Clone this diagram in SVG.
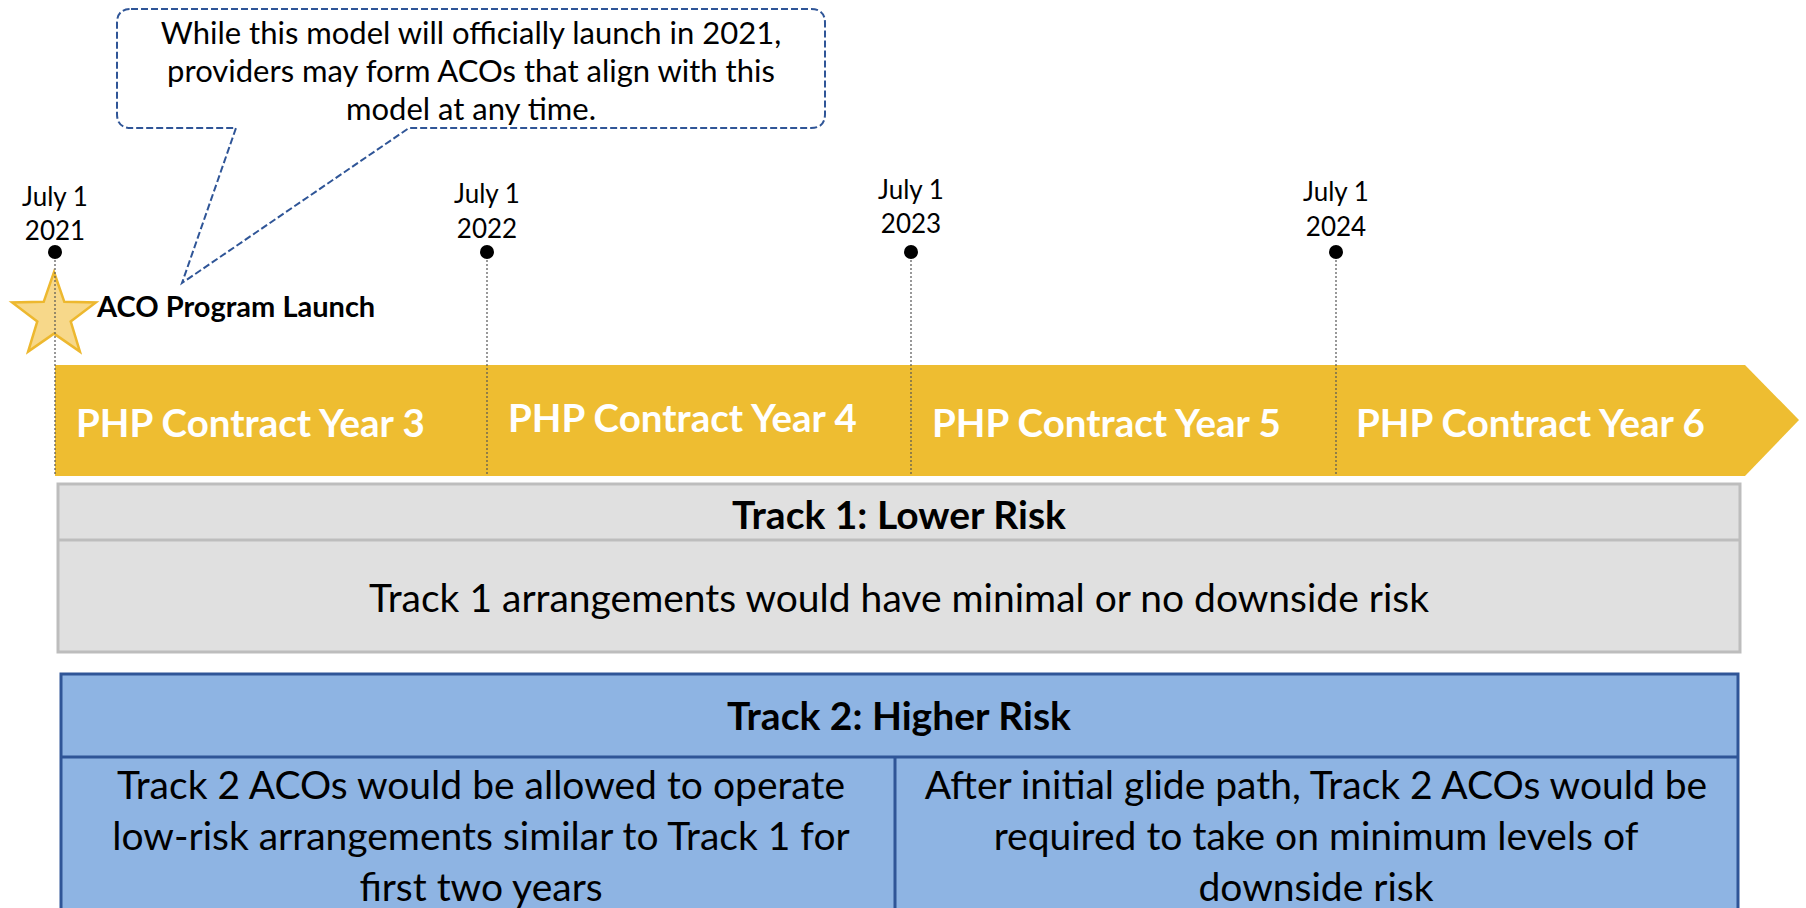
<svg xmlns="http://www.w3.org/2000/svg" width="1806" height="908" viewBox="0 0 1806 908">
<style>
text{font-family:Lato,"Liberation Sans",sans-serif;fill:#000;dominant-baseline:central;text-anchor:middle}
.date{font-size:26px}
.callout{font-size:31px}
.bar{font-size:38.5px;font-weight:bold;fill:#fff;text-anchor:start}
.hdr{font-size:39px;font-weight:bold}
.body{font-size:39px}
.vline{stroke:#555;stroke-width:1.2;stroke-dasharray:2 2;fill:none}
</style>
<rect width="1806" height="908" fill="#fff"/>

<g id="callout">
<path d="M131,9 H811 Q825,9 825,23 V114 Q825,128 811,128 H409 L182,283 L236,128 H131 Q117,128 117,114 V23 Q117,9 131,9 Z" fill="#fff" stroke="#2F5597" stroke-width="2" stroke-dasharray="7 3"/>
<text class="callout" x="471" y="32">While this model will officially launch in 2021,</text>
<text class="callout" x="471" y="70">providers may form ACOs that align with this</text>
<text class="callout" x="471" y="108">model at any time.</text>
</g>

<g id="timeline-bar">
<path d="M55,365 H1745 L1799,420 L1745,476 H55 Z" fill="#EEBD31"/>
<text class="bar" x="76" y="422">PHP Contract Year 3</text>
<text class="bar" x="508" y="417">PHP Contract Year 4</text>
<text class="bar" x="932" y="422">PHP Contract Year 5</text>
<text class="bar" x="1356" y="422">PHP Contract Year 6</text>
</g>

<g id="launch">
<polygon points="54,272 64.3,301.8 95.8,302.4 70.7,321.4 79.9,351.6 54,333.6 28.1,351.6 37.3,321.4 12.2,302.4 43.7,301.8" fill="#F7D88A" stroke="#EDB82F" stroke-width="2.5"/>
<text x="97" y="305" style="font-size:29px;font-weight:bold;text-anchor:start">ACO Program Launch</text>
</g>

<g id="connectors">
<line class="vline" x1="55" y1="252" x2="55" y2="476"/>
<line class="vline" x1="487" y1="252" x2="487" y2="476"/>
<line class="vline" x1="911" y1="252" x2="911" y2="476"/>
<line class="vline" x1="1336" y1="252" x2="1336" y2="476"/>
</g>

<g id="date-2021">
<text class="date" x="55" y="196">July 1</text>
<text class="date" x="55" y="230">2021</text>
<circle cx="55" cy="252" r="7" fill="#000"/>
</g>
<g id="date-2022">
<text class="date" x="487" y="193">July 1</text>
<text class="date" x="487" y="228">2022</text>
<circle cx="487" cy="252" r="7" fill="#000"/>
</g>
<g id="date-2023">
<text class="date" x="911" y="189">July 1</text>
<text class="date" x="911" y="223">2023</text>
<circle cx="911" cy="252" r="7" fill="#000"/>
</g>
<g id="date-2024">
<text class="date" x="1336" y="191">July 1</text>
<text class="date" x="1336" y="226">2024</text>
<circle cx="1336" cy="252" r="7" fill="#000"/>
</g>

<g id="track1">
<rect x="58" y="484" width="1682" height="168" fill="#E0E0E0" stroke="#BDBDBD" stroke-width="3"/>
<line x1="58" y1="540" x2="1740" y2="540" stroke="#BDBDBD" stroke-width="3"/>
<text class="hdr" x="899" y="514">Track 1: Lower Risk</text>
<text class="body" x="899" y="597">Track 1 arrangements would have minimal or no downside risk</text>
</g>

<g id="track2">
<rect x="61" y="674" width="1677" height="260" fill="#8EB4E3" stroke="#2F5597" stroke-width="3"/>
<line x1="61" y1="757" x2="1738" y2="757" stroke="#2F5597" stroke-width="3"/>
<line x1="895" y1="757" x2="895" y2="934" stroke="#2F5597" stroke-width="3"/>
<text class="hdr" x="899" y="715">Track 2: Higher Risk</text>
<text class="body" x="481" y="784">Track 2 ACOs would be allowed to operate</text>
<text class="body" x="481" y="835">low-risk arrangements similar to Track 1 for</text>
<text class="body" x="481" y="886">first two years</text>
<text class="body" x="1316" y="784">After initial glide path, Track 2 ACOs would be</text>
<text class="body" x="1316" y="835">required to take on minimum levels of</text>
<text class="body" x="1316" y="886">downside risk</text>
</g>
</svg>
